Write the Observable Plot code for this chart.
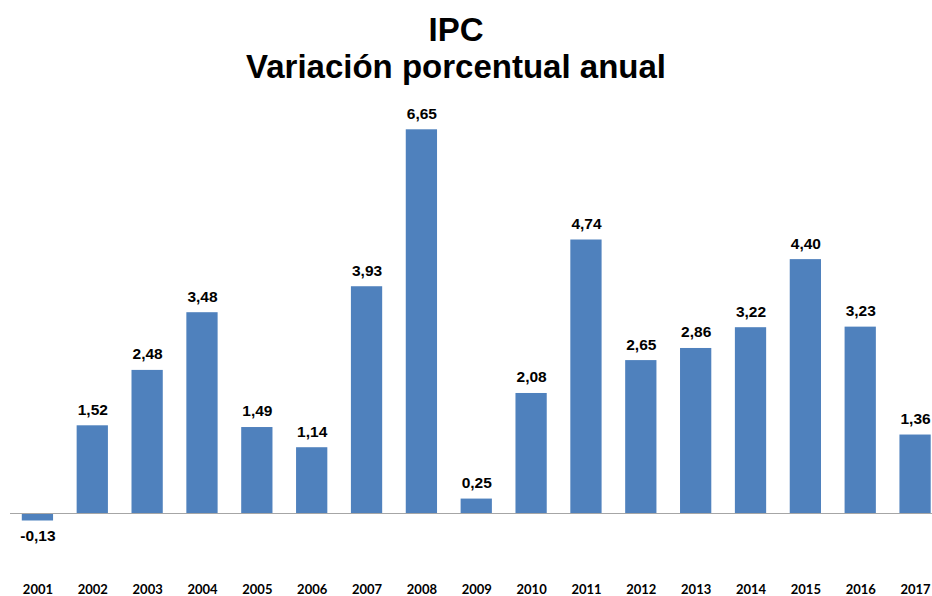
<!DOCTYPE html>
<html>
<head>
<meta charset="utf-8">
<script src="https://cdn.jsdelivr.net/npm/d3@7"></script>
<script src="https://cdn.jsdelivr.net/npm/@observablehq/plot@0.6"></script>
<style>
  body { margin: 0; background: #fff; width: 932px; height: 596px; overflow: hidden; }
  #title { height: 100px; box-sizing: border-box; padding-top: 11px; padding-right: 20px; text-align: center;
           font-family: "Liberation Sans", Arial, sans-serif; font-weight: bold; font-size: 33px; line-height: 37px; color: #000; }
  svg { display: block; }
</style>
</head>
<body>
<div id="title"><div>IPC</div><div>Variación porcentual anual</div></div>
<div id="chart"></div>
<script>
const years = ["2001","2002","2003","2004","2005","2006","2007","2008","2009","2010","2011","2012","2013","2014","2015","2016","2017"];
const values = [-0.13, 1.52, 2.48, 3.48, 1.49, 1.14, 3.93, 6.65, 0.25, 2.08, 4.74, 2.65, 2.86, 3.22, 4.40, 3.23, 1.36];
const labels = ["-0,13","1,52","2,48","3,48","1,49","1,14","3,93","6,65","0,25","2,08","4,74","2,65","2,86","3,22","4,40","3,23","1,36"];

const data = years.map((y, i) => ({year: y, value: values[i], label: labels[i]}));

const H = 496;
const zeroY = 413;
const k = 57.7;

const chart = Plot.plot({
  width: 932,
  height: H,
  marginLeft: 10,
  marginRight: 0,
  marginTop: 0,
  marginBottom: 20,
  x: {domain: years, range: [10, 942.5], paddingInner: 0.43, paddingOuter: 0.215, round: false, axis: null},
  y: {domain: [-1, 7], range: [zeroY + k, zeroY - 7 * k], axis: null},
  marks: [
    Plot.barY(data, {x: "year", y: "value", fill: "#4F81BD"}),
    Plot.ruleY([0], {stroke: "#A6A6A6", strokeWidth: 1}),
    Plot.text(data.filter(d => d.value >= 0), {x: "year", y: "value", text: "label", dy: -16,
      fontSize: 15.5, fontWeight: "bold", fill: "#000", fontFamily: "Liberation Sans, Arial, sans-serif"}),
    Plot.text(data.filter(d => d.value < 0), {x: "year", y: "value", text: "label", dy: 15,
      fontSize: 15.5, fontWeight: "bold", fill: "#000", fontFamily: "Liberation Sans, Arial, sans-serif"}),
    Plot.axisX({tickSize: 0, tickPadding: 8, fontSize: 13, fontWeight: "bold", fontFamily: "Lato, sans-serif", fill: "#000", label: null})
  ]
});
chart.style.fontFamily = "Lato, sans-serif";
chart.style.color = "#000";
document.getElementById("chart").appendChild(chart);
</script>
</body>
</html>
